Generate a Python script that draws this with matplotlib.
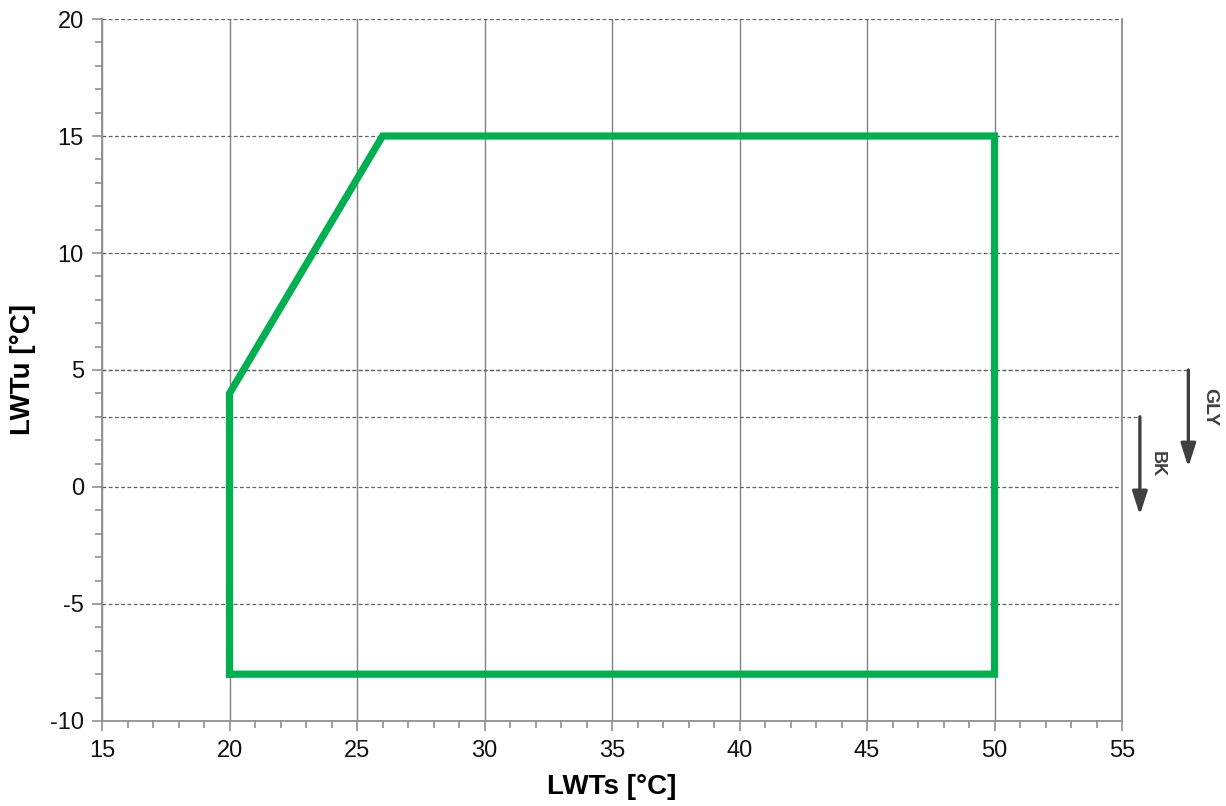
import matplotlib.pyplot as plt
from matplotlib.ticker import MultipleLocator

plt.rcParams['font.family'] = ['Liberation Sans', 'DejaVu Sans']
plt.rcParams['axes.unicode_minus'] = False

#%% data
env_x = [20, 20, 26, 50, 50, 20]
env_y = [-8, 4, 15, 15, -8, -8]
gly_limit = 5
bk_limit = 3
gly_arrow_end = 0.85
bk_arrow_end = -1.2
xticks = [15, 20, 25, 30, 35, 40, 45, 50, 55]
yticks = [-10, -5, 0, 5, 10, 15, 20]

#%% plot
fig = plt.figure(figsize=(12.26, 8.06), dpi=100)
ax = fig.add_axes([0.0832, 0.1055, 0.8320, 0.8709])

ax.set_xlim(15, 55)
ax.set_ylim(-10, 20)
ax.set_xticks(xticks)
ax.set_yticks(yticks)
ax.xaxis.set_minor_locator(MultipleLocator(1))
ax.yaxis.set_minor_locator(MultipleLocator(1))

ax.grid(True, axis='x', which='major', color='#808080', lw=1.0, ls='-')
ax.grid(True, axis='y', which='major', color='#606060', lw=0.9, ls=(0, (3, 2)))
ax.set_axisbelow(True)

for s in ['left', 'bottom', 'right']:
    ax.spines[s].set_color('#909090')
    ax.spines[s].set_linewidth(1.3)
ax.spines['top'].set_visible(False)

ax.tick_params(axis='both', which='major', direction='out', length=7, width=1.2,
               color='#909090', labelsize=17, labelcolor='#111111')
ax.tick_params(axis='both', which='minor', direction='out', length=5, width=1.2,
               color='#909090')
ax.tick_params(axis='x', pad=7)
ax.tick_params(axis='y', pad=6)

ax.plot(env_x, env_y, color='#00b050', lw=5.2, solid_joinstyle='miter',
        solid_capstyle='projecting', zorder=3)

# limit lines for GLY / BK
ax.plot([15, 57.6], [gly_limit, gly_limit], color='#606060', lw=0.9,
        ls=(0, (3, 2)), clip_on=False)
ax.plot([15, 55.7], [bk_limit, bk_limit], color='#606060', lw=0.9,
        ls=(0, (3, 2)), clip_on=False)

arrow = dict(arrowstyle='-|>,head_length=1.4,head_width=0.45',
             color='#404040', lw=2.4, shrinkA=0, shrinkB=0)
ax.annotate('', xy=(57.6, gly_arrow_end), xytext=(57.6, gly_limit),
            arrowprops=arrow, annotation_clip=False)
ax.annotate('', xy=(55.7, bk_arrow_end), xytext=(55.7, bk_limit),
            arrowprops=arrow, annotation_clip=False)
ax.text(58.45, 3.4, 'GLY', rotation=-90, ha='center', va='center', fontsize=14,
        fontweight='bold', color='#404040', clip_on=False)
ax.text(56.4, 1.0, 'BK', rotation=-90, ha='center', va='center', fontsize=13,
        fontweight='bold', color='#404040', clip_on=False)

ax.set_xlabel('LWTs [°C]', fontsize=20, fontweight='bold', labelpad=8)
ax.set_ylabel('LWTu [°C]', fontsize=20, fontweight='bold', labelpad=10)

fig.savefig('out.png', dpi=100)
